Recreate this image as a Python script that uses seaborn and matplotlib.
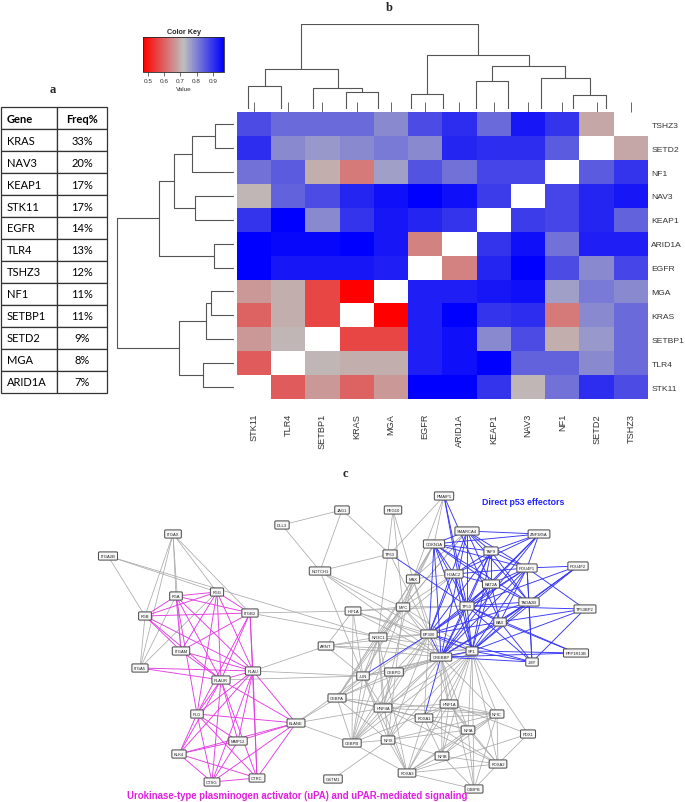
import numpy as np
import pandas as pd
import matplotlib
matplotlib.use("Agg")
import matplotlib.pyplot as plt
import seaborn as sns
from matplotlib.colors import LinearSegmentedColormap, Normalize
from matplotlib.cm import ScalarMappable
from matplotlib.collections import LineCollection

sns.set_style("white")
plt.rcParams["font.family"] = ["Liberation Sans", "DejaVu Sans"]

# ---------------- panel a : mutation frequency table
table_genes = ["KRAS", "NAV3", "KEAP1", "STK11", "EGFR", "TLR4", "TSHZ3",
               "NF1", "SETBP1", "SETD2", "MGA", "ARID1A"]
table_freq = ["33%", "20%", "17%", "17%", "14%", "13%", "12%",
              "11%", "11%", "9%", "8%", "7%"]

# ---------------- panel b : co-occurrence heatmap
col_genes = ["STK11", "TLR4", "SETBP1", "KRAS", "MGA", "EGFR", "ARID1A",
             "KEAP1", "NAV3", "NF1", "SETD2", "TSHZ3"]
row_genes = col_genes[::-1]
nan = np.nan
row_TSHZ3 = [0.87, 0.83, 0.83, 0.83, 0.79, 0.87, 0.91, 0.83, 0.94, 0.90, 0.69, nan]
row_SETD2 = [0.91, 0.79, 0.77, 0.79, 0.81, 0.79, 0.92, 0.91, 0.91, 0.85, nan, 0.69]
row_NF1 = [0.82, 0.85, 0.70, 0.63, 0.76, 0.86, 0.82, 0.88, 0.88, nan, 0.85, 0.90]
row_NAV3 = [0.71, 0.84, 0.87, 0.92, 0.95, 0.97, 0.95, 0.89, nan, 0.88, 0.92, 0.94]
row_KEAP1 = [0.90, 0.97, 0.79, 0.90, 0.94, 0.92, 0.90, nan, 0.89, 0.88, 0.92, 0.84]
row_ARID1A = [0.97, 0.96, 0.96, 0.97, 0.94, 0.64, nan, 0.90, 0.95, 0.82, 0.93, 0.93]
row_EGFR = [0.97, 0.94, 0.94, 0.94, 0.93, nan, 0.64, 0.92, 0.97, 0.87, 0.79, 0.88]
row_MGA = [0.67, 0.70, 0.56, 0.47, nan, 0.93, 0.93, 0.94, 0.95, 0.76, 0.81, 0.79]
row_KRAS = [0.60, 0.70, 0.56, nan, 0.47, 0.93, 0.97, 0.90, 0.91, 0.63, 0.79, 0.83]
row_SETBP1 = [0.67, 0.71, nan, 0.56, 0.56, 0.93, 0.95, 0.79, 0.87, 0.70, 0.77, 0.83]
row_TLR4 = [0.59, nan, 0.71, 0.70, 0.70, 0.93, 0.95, 0.97, 0.84, 0.84, 0.79, 0.83]
row_STK11 = [nan, 0.59, 0.67, 0.60, 0.67, 0.97, 0.97, 0.90, 0.71, 0.82, 0.91, 0.87]

# dendrogram merges (leaf ids follow col_genes order)
merge_left = [0, 3, 2, 12, 5, 7, 10, 9, 17, 16, 15]
merge_right = [1, 4, 13, 14, 6, 8, 11, 18, 19, 20, 21]
merge_height = [68, 50, 62, 119, 44, 84, 42, 92, 130, 164, 255]

# ---------------- panel c : interaction network (layout, px)
node_names = ["JAG1", "DLL3", "PEG10", "PMAIP1", "ITGAX", "ITGA2B", "NOTCH1", "TP63",
              "SMARCA4", "ZNF385A", "CDKN1A", "TAF9", "POU4F1", "POU4F2", "MAX", "HDAC2",
              "KAT2A", "TADA2B", "FGA", "FGG", "FGB", "ITGB2", "HIF1A", "MYC", "TP53",
              "TP53BP2", "BAX", "EP300", "NR3C1", "ARNT", "ITGAM", "SP1", "CREBBP",
              "PPP1R13B", "JMY", "ITGA5", "PLAU", "PLAUR", "JUN", "CEBPD", "CEBPA",
              "HNF4A", "HNF1A", "FOXA1", "NFIC", "PLG", "ELANE", "NFIA", "PDX1", "MMP12",
              "CEBPB", "NFIX", "NFIB", "KLK4", "FOXA2", "FOXA3", "CTSG", "CTRC", "GSTM1",
              "C4BPB"]
node_x = [342, 282, 393, 444, 173, 108, 320, 390, 467, 539, 434, 491, 527, 578, 413, 454,
          491, 529, 176, 217, 145, 250, 353, 403, 467, 585, 500, 429, 378, 326, 181, 472,
          441, 576, 532, 140, 253, 221, 363, 394, 337, 383, 449, 424, 497, 197, 296, 468,
          528, 238, 352, 388, 442, 179, 498, 407, 212, 257, 333, 474]
node_y = [511, 526, 511, 497, 535, 557, 572, 555, 532, 535, 545, 552, 569, 567, 580, 575,
          585, 603, 597, 593, 617, 614, 612, 608, 607, 610, 623, 635, 638, 647, 652, 652,
          658, 654, 663, 669, 672, 681, 677, 673, 699, 709, 705, 719, 715, 715, 724, 731,
          735, 742, 744, 741, 757, 755, 765, 774, 783, 779, 780, 790]

upa_edges = """FGA-FGG FGA-FGB FGA-ITGB2 FGA-ITGAM FGA-PLAUR FGA-PLAU FGA-PLG
FGG-FGB FGG-ITGB2 FGG-ITGAM FGG-PLAUR FGG-PLAU FGG-PLG FGB-ITGB2 FGB-ITGAM FGB-PLAUR
FGB-PLAU ITGB2-ITGAM ITGB2-PLAUR ITGB2-PLAU ITGB2-PLG ITGB2-CTRC ITGAM-PLAUR ITGAM-PLAU
ITGA5-PLAU ITGA5-PLAUR PLAU-PLAUR PLAU-PLG PLAU-ELANE PLAU-MMP12 PLAU-KLK4 PLAU-CTSG
PLAU-CTRC PLAUR-PLG PLAUR-MMP12 PLAUR-KLK4 PLAUR-CTSG PLAUR-CTRC PLAUR-ELANE PLG-ELANE
PLG-MMP12 PLG-KLK4 PLG-CTSG PLG-CTRC ELANE-MMP12 ELANE-KLK4 ELANE-CTSG ELANE-CTRC
MMP12-KLK4 MMP12-CTSG KLK4-CTSG KLK4-CTRC CTSG-CTRC""".split()

p53_edges = """TP53-PMAIP1 TP53-SMARCA4 TP53-ZNF385A TP53-CDKN1A TP53-TAF9 TP53-POU4F1
TP53-POU4F2 TP53-HDAC2 TP53-KAT2A TP53-TADA2B TP53-TP53BP2 TP53-BAX TP53-EP300
TP53-CREBBP TP53-SP1 TP53-JMY TP53-PPP1R13B TP53-TP63 EP300-SMARCA4 EP300-CDKN1A
EP300-TAF9 EP300-POU4F1 EP300-HDAC2 EP300-KAT2A EP300-TADA2B EP300-BAX EP300-CREBBP
EP300-SP1 EP300-JMY EP300-JUN CREBBP-SMARCA4 CREBBP-CDKN1A CREBBP-TAF9 CREBBP-POU4F1
CREBBP-KAT2A CREBBP-TADA2B CREBBP-BAX CREBBP-SP1 CREBBP-JMY CREBBP-PPP1R13B
CREBBP-FOXA1 CREBBP-ZNF385A SP1-CDKN1A SP1-TAF9 SP1-POU4F1 SP1-POU4F2 SP1-HDAC2
SP1-KAT2A SP1-TADA2B SP1-BAX SP1-JMY SP1-PPP1R13B SP1-TP53BP2 SMARCA4-ZNF385A
SMARCA4-TAF9 SMARCA4-POU4F1 SMARCA4-KAT2A SMARCA4-TADA2B SMARCA4-CDKN1A ZNF385A-TAF9
ZNF385A-POU4F1 ZNF385A-CDKN1A ZNF385A-KAT2A ZNF385A-HDAC2 CDKN1A-TAF9 CDKN1A-POU4F1
CDKN1A-KAT2A CDKN1A-TADA2B CDKN1A-HDAC2 TAF9-POU4F1 TAF9-KAT2A TAF9-TADA2B TAF9-HDAC2
POU4F1-POU4F2 POU4F1-KAT2A POU4F1-TADA2B POU4F1-BAX POU4F1-HDAC2 POU4F1-TP53BP2
POU4F1-JMY POU4F2-TADA2B POU4F2-BAX KAT2A-TADA2B KAT2A-HDAC2 KAT2A-BAX TADA2B-BAX
TADA2B-JMY BAX-PPP1R13B BAX-JMY BAX-TP53BP2 PMAIP1-BAX PMAIP1-SP1 TP53BP2-JMY""".split()

other_edges = """JAG1-DLL3 JAG1-NOTCH1 JAG1-TP63 DLL3-NOTCH1 NOTCH1-TP63 NOTCH1-JUN NOTCH1-MYC
NOTCH1-EP300 NOTCH1-CREBBP PEG10-MYC PEG10-MAX PEG10-NR3C1 TP63-PMAIP1 TP63-EP300
PMAIP1-CDKN1A PMAIP1-MAX CDKN1A-MAX CDKN1A-MYC CDKN1A-NR3C1 CDKN1A-JUN SMARCA4-MAX
SMARCA4-MYC SMARCA4-NR3C1 HDAC2-MAX HDAC2-MYC HDAC2-NR3C1 MAX-MYC MAX-EP300 MAX-CREBBP
MAX-CEBPA MAX-HNF4A MYC-EP300 MYC-CREBBP MYC-JUN MYC-SP1 MYC-HIF1A MYC-CEBPA MYC-CEBPB
MYC-NFIX MYC-TP53 HIF1A-ARNT HIF1A-EP300 HIF1A-CREBBP HIF1A-JUN HIF1A-TP53 HIF1A-CEBPB
HIF1A-SP1 ARNT-NR3C1 ARNT-EP300 ARNT-CREBBP ARNT-SP1 ARNT-JUN NR3C1-EP300 NR3C1-CREBBP
NR3C1-JUN NR3C1-CEBPA NR3C1-CEBPB NR3C1-HNF4A NR3C1-NFIX NR3C1-FOXA3 NR3C1-SP1
JUN-CREBBP JUN-CEBPA JUN-CEBPB JUN-CEBPD JUN-SP1 JUN-HNF4A JUN-NFIX JUN-FOXA3
CEBPA-CEBPB CEBPA-CEBPD CEBPA-EP300 CEBPA-CREBBP CEBPA-HNF4A CEBPA-FOXA1 CEBPA-NFIX
CEBPA-NFIC CEBPB-CEBPD CEBPB-EP300 CEBPB-CREBBP CEBPB-HNF4A CEBPB-NFIX CEBPB-FOXA3
CEBPB-SP1 CEBPB-HNF1A CEBPD-EP300 CEBPD-CREBBP CEBPD-SP1 CEBPD-HNF4A HNF4A-EP300
HNF4A-CREBBP HNF4A-HNF1A HNF4A-FOXA1 HNF4A-FOXA2 HNF4A-FOXA3 HNF4A-NFIA HNF4A-SP1
HNF4A-NFIC HNF1A-CREBBP HNF1A-EP300 HNF1A-FOXA1 HNF1A-FOXA2 HNF1A-FOXA3 HNF1A-NFIC
HNF1A-NFIA HNF1A-NFIB HNF1A-PDX1 HNF1A-SP1 FOXA1-FOXA2 FOXA1-FOXA3 FOXA1-NFIA
FOXA1-NFIB FOXA1-NFIC FOXA1-EP300 FOXA1-SP1 NFIC-NFIA NFIC-NFIB NFIC-NFIX NFIC-SP1
NFIC-CREBBP NFIC-FOXA3 NFIC-FOXA2 NFIC-C4BPB NFIA-NFIB NFIA-NFIX NFIA-SP1 NFIA-CREBBP
NFIA-FOXA2 NFIA-C4BPB NFIA-FOXA3 NFIB-NFIX NFIB-FOXA3 NFIB-FOXA2 NFIB-SP1 NFIB-CREBBP
NFIB-C4BPB NFIX-FOXA3 NFIX-CREBBP NFIX-EP300 NFIX-SP1 FOXA2-SP1 FOXA2-PDX1 FOXA2-FOXA3
FOXA2-C4BPB FOXA3-C4BPB FOXA3-SP1 GSTM1-NFIX PDX1-SP1 PDX1-FOXA3 C4BPB-SP1 C4BPB-CREBBP
ELANE-CEBPA ELANE-CEBPB ELANE-HNF4A ELANE-JUN ITGB2-HIF1A ITGB2-NR3C1 ITGA2B-NR3C1
ITGA2B-FGG ITGA2B-FGB ITGAX-FGA ITGAX-FGB ITGAX-ITGB2 ITGAX-FGG ITGAX-ITGA5 ITGAX-ITGAM
ITGA5-FGA ITGA5-FGG ITGA5-FGB PLAU-ARNT PLAU-JUN PLAUR-JUN""".split()

W, H = 685, 803
fig = plt.figure(figsize=(W / 100, H / 100), dpi=100)


def rect(x0, y0, x1, y1):
    return [x0 / W, 1 - y1 / H, (x1 - x0) / W, (y1 - y0) / H]


# full-figure overlay in pixel units (network + panel letters)
ax_net = fig.add_axes([0, 0, 1, 1])
ax_net.set_xlim(0, W)
ax_net.set_ylim(H, 0)
ax_net.axis("off")

pos = {n: (x, y) for n, x, y in zip(node_names, node_x, node_y)}


def segs(edges):
    out = []
    for e in edges:
        a, b = e.split("-")
        out.append([pos[a], pos[b]])
    return out


ax_net.add_collection(LineCollection(segs(other_edges), colors="#aaaaaa", linewidths=0.55, zorder=1))
ax_net.add_collection(LineCollection(segs(upa_edges), colors="#e23ce2", linewidths=0.65, zorder=2))
ax_net.add_collection(LineCollection(segs(p53_edges), colors="#3535f5", linewidths=0.65, zorder=2))
for n, x, y in zip(node_names, node_x, node_y):
    ax_net.text(x, y, n, fontsize=3.0, ha="center", va="center", color="#222222", zorder=3,
                bbox=dict(boxstyle="round,pad=0.5,rounding_size=0.25", fc="#f7f7f7",
                          ec="#505050", lw=0.75))

ax_net.text(523, 503, "Direct p53 effectors", color="#2020ff", fontsize=6.3,
            fontweight="bold", ha="center", va="center")
ax_net.text(297, 796, "Urokinase-type plasminogen activator (uPA) and uPAR-mediated signaling",
            color="#e020e0", fontsize=6.9, fontweight="bold", ha="center", va="center")

for letter, lx, ly in [("a", 53, 90), ("b", 389, 8), ("c", 345, 474)]:
    ax_net.text(lx, ly, letter, fontsize=9, fontweight="bold", ha="center", va="center",
                family=["Liberation Serif", "DejaVu Serif"])

# ---------------- table
ax_tab = fig.add_axes(rect(1, 108.3, 107, 393.5))
ax_tab.axis("off")
tbl = ax_tab.table(cellText=[[g, f] for g, f in zip(table_genes, table_freq)],
                   colLabels=["Gene", "Freq%"], colWidths=[0.53, 0.47],
                   bbox=[0, 0, 1, 1], cellLoc="center")
tbl.auto_set_font_size(False)
for (r, c), cell in tbl.get_celld().items():
    cell.set_edgecolor("#333333")
    cell.set_linewidth(0.9)
    t = cell.get_text()
    t.set_fontfamily(["Lato", "DejaVu Sans"])
    t.set_fontsize(8)
    t.set_color("black")
    if c == 0:
        cell.set_text_props(ha="left")
        cell.PAD = 0.1
    if r == 0:
        t.set_fontweight("bold")

# ---------------- heatmap
cmap = LinearSegmentedColormap.from_list("rgb", ["#ff0000", "#bebebe", "#0000ff"])
vmin, vmax = 0.47, 0.97
mat = pd.DataFrame([row_TSHZ3, row_SETD2, row_NF1, row_NAV3, row_KEAP1, row_ARID1A,
                    row_EGFR, row_MGA, row_KRAS, row_SETBP1, row_TLR4, row_STK11],
                   index=row_genes, columns=col_genes)

ax_hm = fig.add_axes(rect(236.7, 113.3, 648, 400))
sns.heatmap(mat, ax=ax_hm, cmap=cmap, vmin=vmin, vmax=vmax, cbar=False,
            xticklabels=True, yticklabels=True)
ax_hm.yaxis.tick_right()
ax_hm.set_yticklabels(row_genes, rotation=0, fontsize=6.1, color="#333333")
ax_hm.tick_params(axis="y", length=0, pad=2.5)
ax_hm.set_xticklabels(col_genes, rotation=90, fontsize=6.6, color="#333333")
ax_hm.tick_params(axis="x", bottom=False, top=True, labelbottom=True, labeltop=False,
                  length=7, width=0.7, color="#666666", pad=3)
ax_hm.set_xlabel("")
ax_hm.set_ylabel("")


# ---------------- dendrograms
def dendro_lines(n_leaves):
    p = {i: i + 0.5 for i in range(n_leaves)}
    h = {i: 0.0 for i in range(n_leaves)}
    lines = []
    for k, (a, b, hh) in enumerate(zip(merge_left, merge_right, merge_height)):
        lines.append(([p[a], p[a], p[b], p[b]], [h[a], hh, hh, h[b]]))
        p[n_leaves + k] = (p[a] + p[b]) / 2
        h[n_leaves + k] = hh
    return lines


ax_cd = fig.add_axes(rect(232, 25, 622, 110))
ax_rd = fig.add_axes(rect(116, 113.3, 234, 400))
for xs, ys in dendro_lines(len(col_genes)):
    ax_cd.plot(xs, ys, color="#555555", lw=0.8)
    ax_rd.plot(ys, xs, color="#555555", lw=0.8)
ax_cd.set_xlim(0, 12)
ax_cd.set_ylim(0, 256)
ax_rd.set_ylim(0, 12)
ax_rd.set_xlim(257, 0)
for a in (ax_cd, ax_rd):
    a.axis("off")

# ---------------- colour key
ax_key = fig.add_axes(rect(143.3, 37.7, 224, 72.7))
cb = fig.colorbar(ScalarMappable(norm=Normalize(vmin, vmax), cmap=cmap), cax=ax_key,
                  orientation="horizontal")
cb.set_ticks([0.5, 0.6, 0.7, 0.8, 0.9])
cb.ax.tick_params(labelsize=4.6, length=3, width=0.5, pad=1.5, colors="#333333")
cb.outline.set_linewidth(0.6)
ax_key.set_title("Color Key", fontsize=5.2, fontweight="bold", pad=3)
cb.set_label("Value", fontsize=4.6, labelpad=2, color="#333333")

fig.savefig("out.png", dpi=100)
